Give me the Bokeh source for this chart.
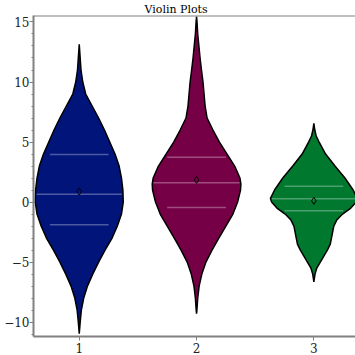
import numpy as np
from bokeh.plotting import figure
from bokeh.models import FixedTicker, Range1d, Span
from bokeh.embed import file_html
from bokeh.resources import INLINE

# ---- data ----
groups = [1, 2, 3]
colors = ["#00147A", "#760046", "#00782E"]

# violin half-widths (x units) at y levels
blue_y = [13.15, 12, 11, 10, 9, 8, 7, 6, 5, 4, 3, 2, 1, 0, -1, -2, -3, -4, -5, -6, -7, -8, -9, -10, -10.96]
blue_w = [0.0, 0.008, 0.015, 0.03, 0.055, 0.11, 0.165, 0.215, 0.26, 0.305, 0.34, 0.36, 0.372, 0.375,
          0.36, 0.325, 0.28, 0.22, 0.165, 0.115, 0.07, 0.038, 0.018, 0.008, 0.0]

purple_y = [15.45, 15, 14, 13, 12, 11, 10, 9, 8, 7, 6, 5, 4, 3, 2, 1.5, 1, 0, -1, -2, -3, -4, -5, -6, -7, -8, -9, -9.3]
purple_w = [0.0, 0.004, 0.01, 0.02, 0.03, 0.042, 0.055, 0.064, 0.073, 0.09, 0.14, 0.195, 0.26, 0.325,
            0.37, 0.378, 0.375, 0.35, 0.31, 0.25, 0.19, 0.132, 0.08, 0.045, 0.022, 0.01, 0.003, 0.0]

green_y = [6.55, 6, 5.5, 5, 4, 3, 2, 1, 0.3, 0, -0.5, -1, -1.5, -2, -2.5, -3, -3.5, -4, -4.5, -5, -5.5, -6, -6.65]
green_w = [0.0, 0.008, 0.02, 0.045, 0.1, 0.18, 0.265, 0.335, 0.37, 0.36, 0.315, 0.245, 0.195, 0.17,
           0.16, 0.15, 0.14, 0.115, 0.085, 0.055, 0.025, 0.01, 0.0]

q1 = [-1.9, -0.46, -0.73]
medians = [0.65, 1.6, 0.27]
q3 = [3.96, 3.73, 1.32]
means = [0.875, 1.85, 0.1]

y_ticks = [-10, -5, 0, 5, 10, 15]
x_ticks = [1, 2, 3]

profiles = [(blue_y, blue_w), (purple_y, purple_w), (green_y, green_w)]

Y_MIN, Y_MAX = -11.2, 15.54

p = figure(width=355, height=355, output_backend="svg", toolbar_location=None,
           x_range=Range1d(0.61, 3.355), y_range=Range1d(Y_MIN, Y_MAX),
           min_border_left=33, min_border_right=0, min_border_top=0, min_border_bottom=19,
           title="Violin Plots")
p.background_fill_color = "white"
p.grid.visible = False
p.outline_line_color = None
p.add_layout(Span(location=Y_MAX, dimension="width", line_color="#808080", line_width=2))

p.title.text_font = "DejaVu Serif"
p.title.text_font_size = "11px"
p.title.text_font_style = "normal"
p.title.text_color = "black"
p.title.align = "left"
p.title.offset = 111
p.title.standoff = 0

for g, (ys, ws), c in zip(groups, profiles, colors):
    ys = np.array(ys, dtype=float)
    ws = np.array(ws, dtype=float)
    xs = np.concatenate([g + ws, (g - ws)[::-1]])
    yy = np.concatenate([ys, ys[::-1]])
    p.patch(xs, yy, fill_color=c, line_color="black", line_width=1.5)

for i, (g, (ys, ws)) in enumerate(zip(groups, profiles)):
    order = np.argsort(ys)
    ys_s = np.array(ys)[order]
    ws_s = np.array(ws)[order]
    hw_med = float(np.interp(medians[i], ys_s, ws_s))
    p.segment(x0=[g - 0.25, g - 0.25], y0=[q1[i], q3[i]], x1=[g + 0.25, g + 0.25], y1=[q1[i], q3[i]],
              line_color="white", line_alpha=0.3, line_width=1.5)
    p.segment(x0=[g - hw_med + 0.01], y0=[medians[i]], x1=[g + hw_med - 0.01], y1=[medians[i]],
              line_color="white", line_alpha=0.3, line_width=1.5)

p.scatter(groups, means, marker="diamond", size=7, fill_alpha=0, line_color="black", line_width=1)

for ax in (p.xaxis[0], p.yaxis[0]):
    ax.axis_line_color = "#808080"
    ax.axis_line_width = 2
    ax.major_tick_line_color = "#808080"
    ax.minor_tick_line_color = "#808080"
    ax.major_tick_in = 0
    ax.major_tick_out = 4
    ax.minor_tick_in = 0
    ax.minor_tick_out = 2
    ax.major_label_text_font = "DejaVu Serif"
    ax.major_label_text_font_size = "12px"
    ax.major_label_text_color = "#222222"

p.xaxis.ticker = FixedTicker(ticks=x_ticks)
p.yaxis.ticker = FixedTicker(ticks=y_ticks, minor_ticks=list(range(-11, 16)))
p.yaxis.major_label_overrides = {t: (("\u2212" + str(-t)) if t < 0 else str(t)) for t in y_ticks}
p.yaxis.major_label_standoff = 0
p.xaxis.major_label_standoff = 2

open("out.html", "w").write(file_html(p, INLINE))
